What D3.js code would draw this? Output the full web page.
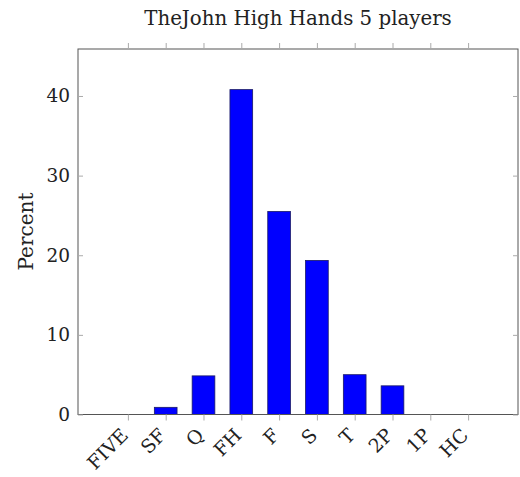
<!DOCTYPE html>
<html><head><meta charset="utf-8">
<script src="https://cdn.jsdelivr.net/npm/d3@7"></script>
<style>body{margin:0;background:#fff}</style>
</head><body>
<svg id="c" width="520" height="477"></svg>
<script>
const categories = ["FIVE","SF","Q","FH","F","S","T","2P","1P","HC"];
const percents = [0, 0.9, 4.85, 40.8, 25.5, 19.35, 5.0, 3.6, 0, 0];
const yTicks = [0, 10, 20, 30, 40];
const title = "TheJohn High Hands 5 players";
const yLabel = "Percent";

const svg = d3.select("#c");
const L = 78, R = 518, T = 49, B = 414.5;
const font = "'DejaVu Serif', serif";

const x = d3.scalePoint().domain(categories).range([L, R]).padding(1.32);
const y = d3.scaleLinear().domain([0, 45.9]).range([B, T]);
const bw = 22.7;

// bars
svg.append("g").selectAll("rect").data(categories).join("rect")
  .attr("x", d => x(d) - bw/2)
  .attr("y", (d,i) => y(percents[i]))
  .attr("width", bw)
  .attr("height", (d,i) => B - y(percents[i]))
  .attr("fill", "#0000ff")
  .attr("stroke", "#1a1a66")
  .attr("stroke-width", 0.8);

// frame
svg.append("rect").attr("x", L).attr("y", T).attr("width", R-L).attr("height", B-T)
  .attr("fill", "none").attr("stroke", "#555").attr("stroke-width", 1);

// y axis (left, ticks inside)
const yAx = svg.append("g").attr("transform", `translate(${L},0)`)
  .call(d3.axisLeft(y).tickValues(yTicks).tickSize(-5).tickPadding(8).tickFormat(d3.format("d")));
yAx.select(".domain").remove();
yAx.selectAll("line").attr("stroke", "#aaa");
yAx.selectAll("text").attr("font-family", font).attr("font-size", 18.5).attr("fill", "#222");
// right ticks
const yAxR = svg.append("g").attr("transform", `translate(${R},0)`)
  .call(d3.axisRight(y).tickValues(yTicks).tickSize(-5).tickFormat(""));
yAxR.select(".domain").remove();
yAxR.selectAll("line").attr("stroke", "#aaa");

// x axis bottom
const xAx = svg.append("g").attr("transform", `translate(0,${B})`)
  .call(d3.axisBottom(x).tickSize(6));
xAx.select(".domain").remove();
xAx.selectAll("line").attr("stroke", "#aaa");
xAx.selectAll("text")
  .attr("font-family", font).attr("font-size", 19).attr("fill", "#222")
  .attr("text-anchor", "end")
  .attr("x", 0).attr("y", 0).attr("dy", 0)
  .attr("transform", "translate(1,22) rotate(-45)");
// top ticks
const xAxT = svg.append("g").attr("transform", `translate(0,${T})`)
  .call(d3.axisTop(x).tickSize(6).tickFormat(""));
xAxT.select(".domain").remove();
xAxT.selectAll("line").attr("stroke", "#aaa");

// title
svg.append("text").attr("x", 298).attr("y", 25)
  .attr("text-anchor", "middle").attr("font-family", font).attr("font-size", 19.8)
  .attr("fill", "#222").text(title);

// y label
svg.append("text").attr("transform", `translate(33,231.5) rotate(-90)`)
  .attr("text-anchor", "middle").attr("font-family", font).attr("font-size", 20)
  .attr("fill", "#222").text(yLabel);
</script>
</body></html>
